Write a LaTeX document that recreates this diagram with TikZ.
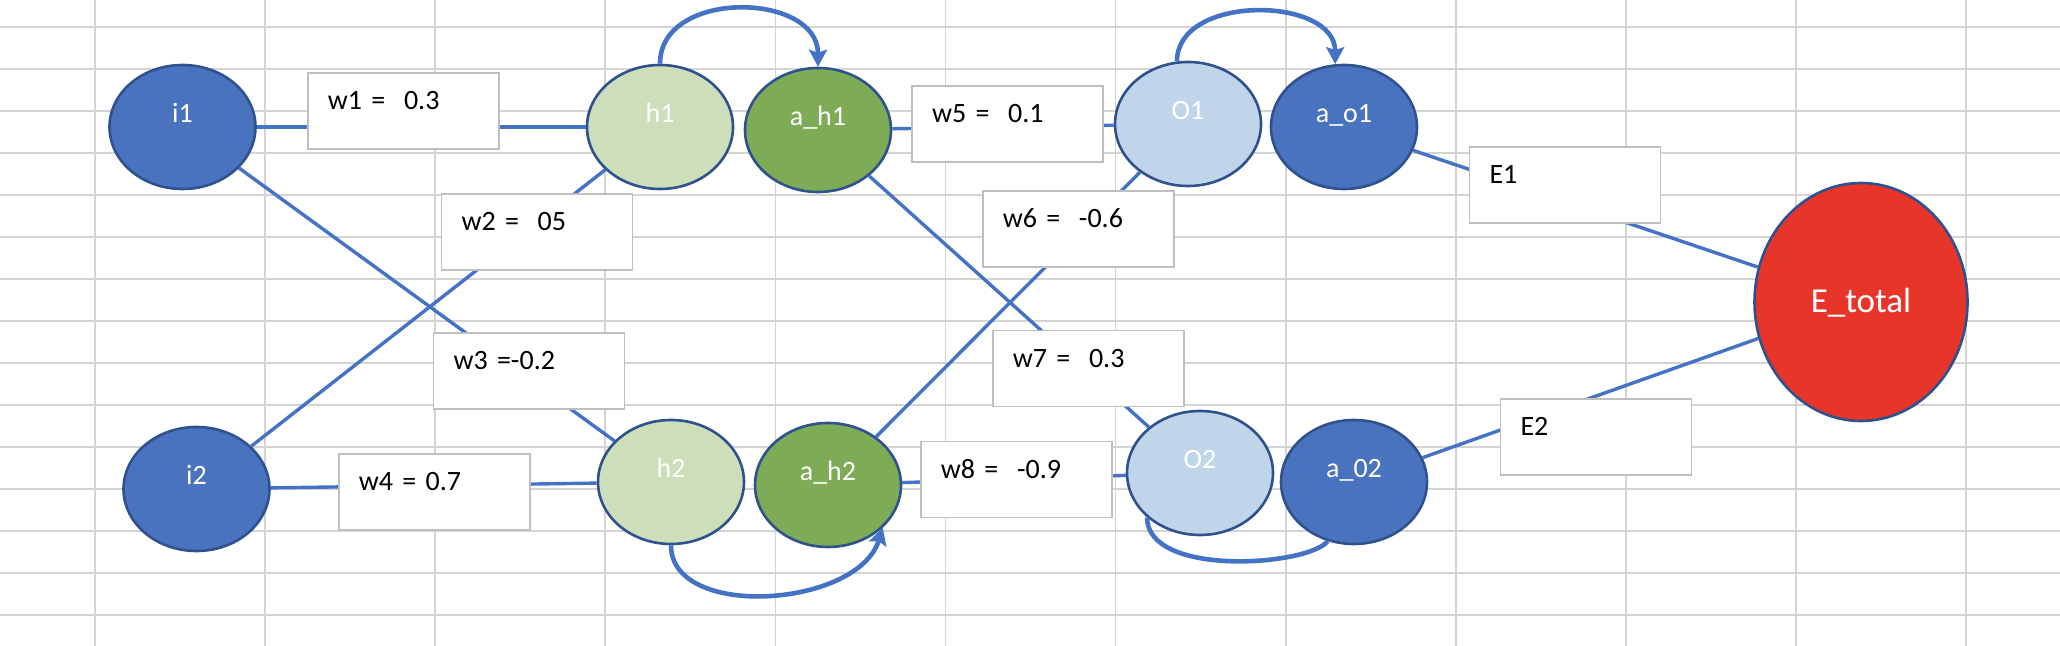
\documentclass[tikz,border=0pt]{standalone}
\usepackage{fontspec}
\setmainfont{Carlito}
\usetikzlibrary{arrows.meta,shapes}

\definecolor{gridgray}{HTML}{D4D4D4}
\definecolor{edgeblue}{HTML}{4472C4}
\definecolor{rimblue}{HTML}{2F528F}
\definecolor{unitblue}{HTML}{4A73BF}
\definecolor{hidlight}{HTML}{CCDFBA}
\definecolor{hiddark}{HTML}{7EAB55}
\definecolor{outlight}{HTML}{C0D5EA}
\definecolor{errred}{HTML}{E8352A}
\definecolor{boxgray}{HTML}{BFBFBF}

\begin{document}
\begin{tikzpicture}[x=0.5pt,y=-0.5pt,
    neuron/.style={ellipse,draw=rimblue,line width=1.3pt,minimum width=73pt,minimum height=62pt,
        inner sep=0pt,text=white,font=\fontsize{14pt}{17pt}\selectfont,text height=6pt,text depth=10.6pt},
    weight/.style={draw=boxgray,line width=0.8pt,fill=white,inner xsep=10pt,inner ysep=0pt,
        text width=75.5pt,align=left,text height=18.5pt,text depth=19.5pt,font=\fontsize{14pt}{17pt}\selectfont},
    link/.style={edgeblue,line width=1.7pt},
    selfarc/.style={edgeblue,line width=2.3pt,-{Stealth[length=8.5pt,width=9pt,inset=1.5pt]}}]
\useasboundingbox (0,0) rectangle (2060,646);
% sheet grid
\foreach \k in {0,...,11} \draw[gridgray,line width=0.85pt] ({95+170.1*\k},0) -- ({95+170.1*\k},646);
\foreach \k in {0,...,14} \draw[gridgray,line width=0.85pt] (0,{26.8+42*\k}) -- (2060,{26.8+42*\k});

\node [neuron,fill=unitblue] (i1) at (182.5,127) {i1};
\node [neuron,fill=unitblue] (i2) at (196.5,489) {i2};
\node [neuron,fill=hidlight] (h1) at (660,127) {h1};
\node [neuron,fill=hiddark] (ah1) at (818,130) {a\_h1};
\node [neuron,fill=hidlight] (h2) at (671,482) {h2};
\node [neuron,fill=hiddark] (ah2) at (828,485) {a\_h2};
\node [neuron,fill=outlight] (o1) at (1188,124) {O1};
\node [neuron,fill=unitblue] (ao1) at (1344,127) {a\_o1};
\node [neuron,fill=outlight] (o2) at (1200,473) {O2};
\node [neuron,fill=unitblue] (ao2) at (1354,482) {a\_02};
\node [neuron,fill=errred,minimum width=106.5pt,minimum height=119pt,
    font=\fontsize{17.5pt}{21pt}\selectfont,text height=13pt,text depth=2pt] (etot) at (1861,302) {E\_total};

\draw[link] (i1) -- (h1);
\draw[link] (i1) -- (h2);
\draw[link] (i2) -- (h1);
\draw[link] (i2) -- (h2);
\draw[link] (ah1) -- (o1);
\draw[link] (ah1) -- (o2);
\draw[link] (ah2) -- (o1);
\draw[link] (ah2) -- (o2);
\draw[link] (ao1) -- (etot);
\draw[link] (ao2) -- (etot);

\node [weight] (w1) at (403.4,110.9) {w1 = \ 0.3};
\node [weight] (w2) at (537,232) {w2 = \ 05};
\node [weight] (w3) at (529,371) {w3 =-0.2};
\node [weight] (w4) at (434.3,491.8) {w4 = 0.7};
\node [weight] (w5) at (1007.5,124) {w5 = \ 0.1};
\node [weight] (w6) at (1078.3,229) {w6 = \ -0.6};
\node [weight] (w7) at (1088.4,368.4) {w7 = \ 0.3};
\node [weight] (w8) at (1016.4,479.5) {w8 = \ -0.9};
\node [weight] (e1) at (1565,185) {E1};
\node [weight] (e2) at (1596,437) {E2};

\draw[selfarc] (h1.north) .. controls +(0,-75) and +(0,-75) .. (ah1.north);
\draw[selfarc] (o1.100) .. controls +(0,-68) and +(0,-68) .. (ao1.98);
\draw[selfarc] (h2.south) .. controls +(0,75) and +(-25,80) .. (ah2.-38);
\draw[selfarc,-] (o2.-140) .. controls +(0,60) and +(-20,25) .. (ao2.-114);
\end{tikzpicture}
\end{document}
